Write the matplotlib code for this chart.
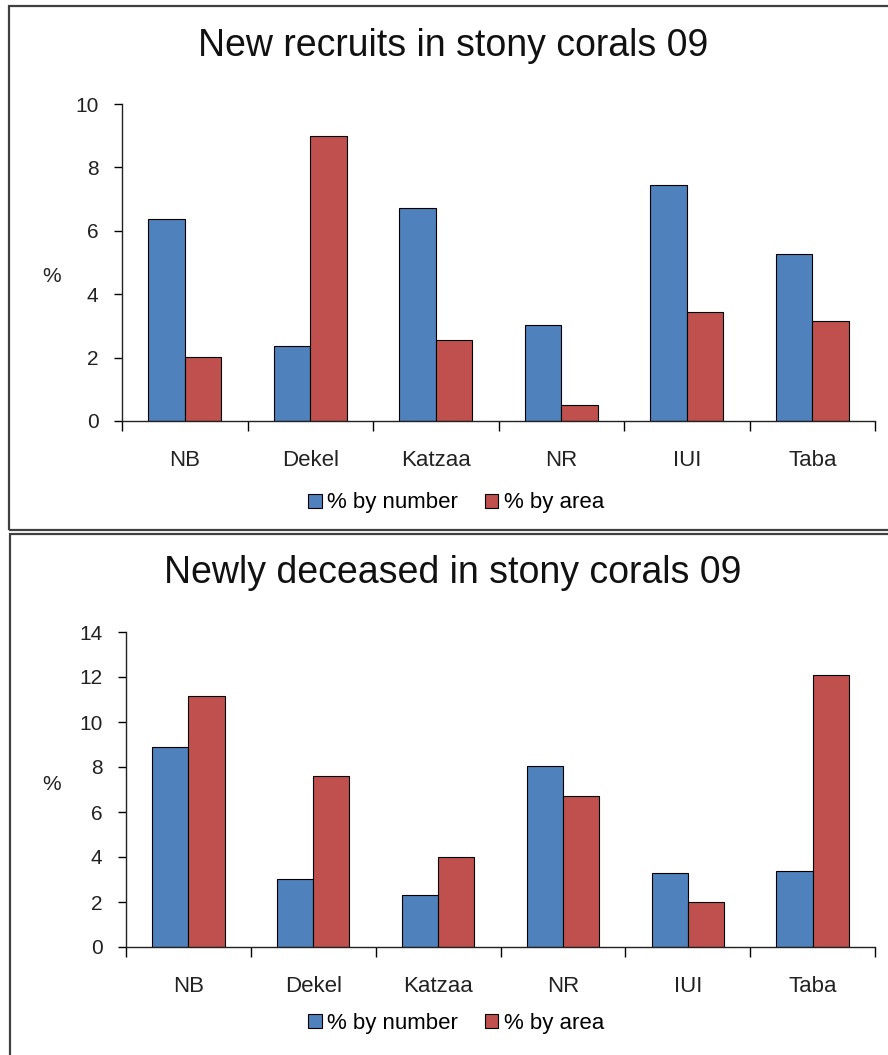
import matplotlib
matplotlib.use("Agg")
from matplotlib import pyplot as plt
from matplotlib.patches import Rectangle
import numpy as np

plt.rcParams['font.family'] = ['Liberation Sans', 'DejaVu Sans']

# sites along the coast
sites = ["NB", "Dekel", "Katzaa", "NR", "IUI", "Taba"]

# new recruits (%)
recruits_number = [6.36, 2.38, 6.72, 3.03, 7.43, 5.27]
recruits_area = [2.03, 8.98, 2.57, 0.51, 3.43, 3.16]

# newly deceased (%)
deceased_number = [8.90, 3.02, 2.30, 8.06, 3.27, 3.39]
deceased_area = [11.14, 7.61, 3.98, 6.73, 2.00, 12.10]

blue = "#4F81BD"
red = "#C0504D"
barw = 0.29

fig = plt.figure(figsize=(8.88, 10.55), dpi=100)

# outer frames around each chart
fig.patches.append(Rectangle((9 / 888, 1 - 530 / 1055), 1.0, 524 / 1055,
                             transform=fig.transFigure, fill=False,
                             edgecolor="#404040", linewidth=1.6, clip_on=False))
fig.patches.append(Rectangle((10 / 888, -0.05), 1.0, 1 - 534 / 1055 + 0.05,
                             transform=fig.transFigure, fill=False,
                             edgecolor="#404040", linewidth=1.6, clip_on=False))


def draw_chart(rect, title, num, area, ymax, step, title_y, pct_y, leg_y):
    ax = fig.add_axes(rect)
    x = np.arange(len(sites))
    ax.bar(x - barw / 2, num, barw, color=blue, edgecolor="black", linewidth=0.8,
           label="% by number")
    ax.bar(x + barw / 2, area, barw, color=red, edgecolor="black", linewidth=0.8,
           label="% by area")
    ax.set_xlim(-0.5, len(sites) - 0.5)
    ax.set_ylim(0, ymax)
    ax.set_yticks(np.arange(0, ymax + 1, step))
    # category ticks sit between groups, labels at group centres
    ax.set_xticks(np.arange(-0.5, len(sites), 1.0))
    ax.set_xticklabels([])
    ax.set_xticks(x, minor=True)
    ax.set_xticklabels(sites, minor=True, fontsize=16, color="#222222")
    ax.tick_params(axis="x", which="minor", length=0, pad=21)
    ax.tick_params(axis="x", which="major", length=7, width=1, direction="out")
    ax.tick_params(axis="y", length=6, width=1, direction="out", labelsize=15,
                   labelcolor="#222222", pad=11)
    for s in ["top", "right"]:
        ax.spines[s].set_visible(False)
    for s in ["left", "bottom"]:
        ax.spines[s].set_linewidth(1)
        ax.spines[s].set_color("#222222")
    fig.text(453 / 888, 1 - title_y / 1055, title, ha="center", va="center",
             fontsize=27, color="#111111")
    fig.text(52 / 888, 1 - pct_y / 1055, "%", ha="center", va="center",
             fontsize=15, color="#222222")
    fig.legend(*ax.get_legend_handles_labels(), loc="center",
               bbox_to_anchor=(456 / 888, 1 - leg_y / 1055), ncol=2, frameon=False,
               fontsize=16, handlelength=0.6, handleheight=0.6, handletextpad=0.25,
               columnspacing=1.2)
    return ax


draw_chart([122 / 888, 1 - 421 / 1055, 753 / 888, 317 / 1055],
           "New recruits in stony corals 09", recruits_number, recruits_area,
           10, 2, 46, 277, 503)
draw_chart([126 / 888, 1 - 947 / 1055, 749 / 888, 315 / 1055],
           "Newly deceased in stony corals 09", deceased_number, deceased_area,
           14, 2, 573, 785, 1023)

fig.savefig("out.png", dpi=100)
